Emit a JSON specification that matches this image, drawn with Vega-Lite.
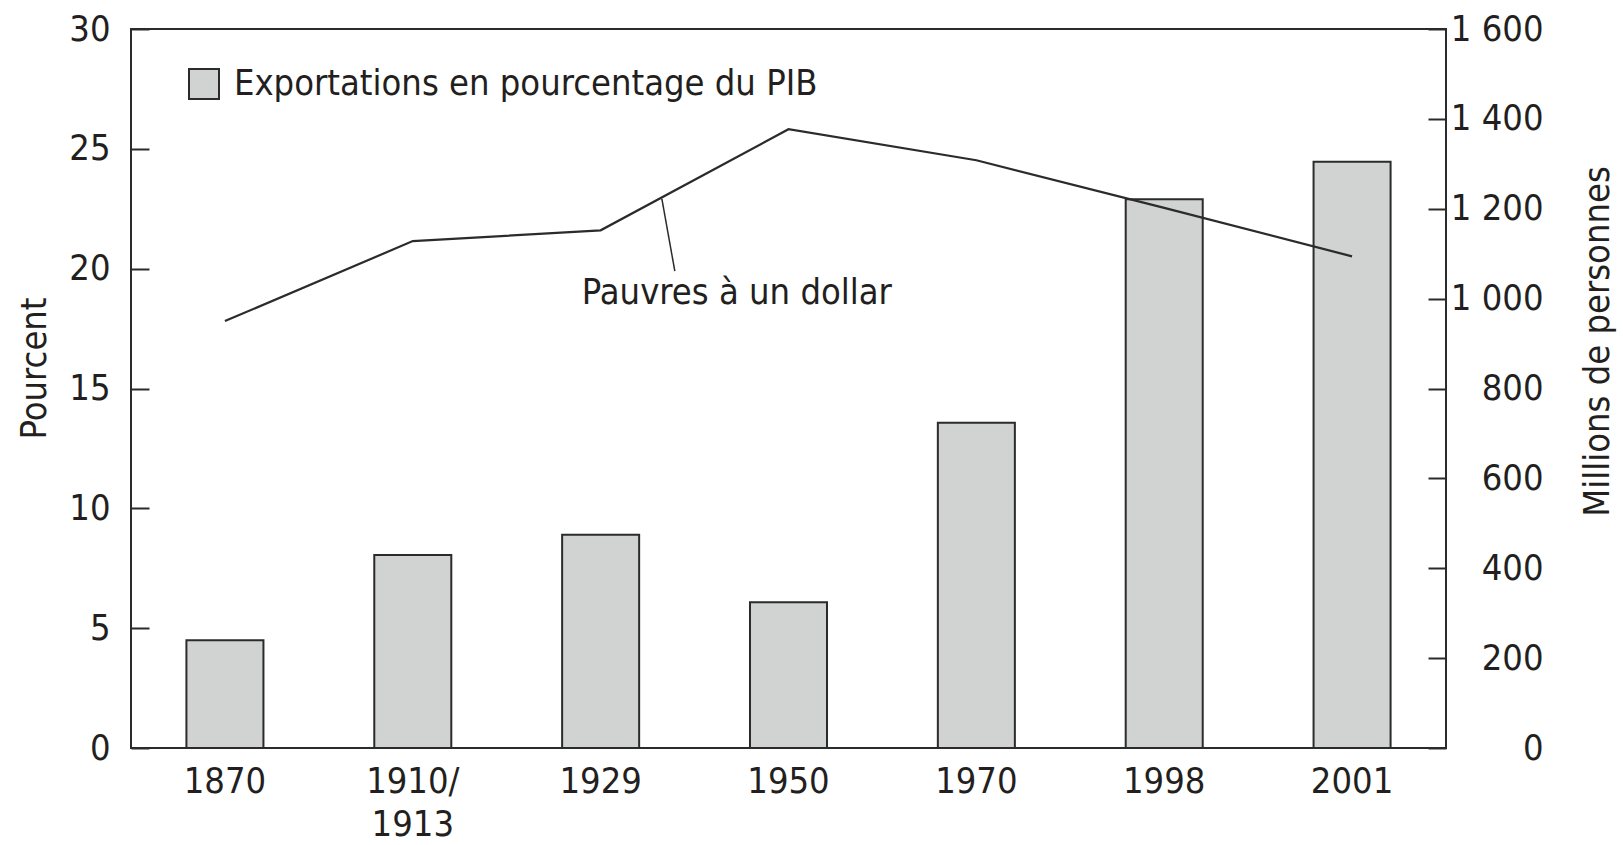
{
  "$schema": "https://vega.github.io/schema/vega-lite/v6.json",
  "autosize": {"type": "none"},
  "width": 1315,
  "height": 719,
  "padding": {"left": 131, "top": 29, "right": 177, "bottom": 97},
  "background": "white",
  "config": {
    "font": "DejaVu Sans Condensed, sans-serif",
    "view": {"stroke": "#2b2b2b", "strokeWidth": 2},
    "axis": {
      "labelFont": "DejaVu Sans Condensed, sans-serif",
      "titleFont": "DejaVu Sans Condensed, sans-serif",
      "labelFontSize": 36,
      "titleFontSize": 36,
      "labelColor": "#231f20",
      "titleColor": "#231f20",
      "titleFontWeight": "normal",
      "grid": false,
      "domain": false,
      "labelOverlap": false,
      "labelBound": false,
      "labelFlush": false
    }
  },
  "data": {
    "values": [
      {"period": "1870", "exports": 4.5, "poor": 950},
      {"period": "1910/1913", "exports": 8.05, "poor": 1128},
      {"period": "1929", "exports": 8.9, "poor": 1152},
      {"period": "1950", "exports": 6.08, "poor": 1377},
      {"period": "1970", "exports": 13.57, "poor": 1308},
      {"period": "1998", "exports": 22.9, "poor": 1202},
      {"period": "2001", "exports": 24.46, "poor": 1094}
    ]
  },
  "layer": [
    {
      "mark": {"type": "bar", "width": {"band": 0.41}, "stroke": "#2b2b2b", "strokeWidth": 2},
      "encoding": {
        "x": {
          "field": "period", "type": "nominal", "sort": null,
          "scale": {"paddingInner": 0, "paddingOuter": 0},
          "axis": {
            "title": null, "labelAngle": 0, "ticks": false, "labelPadding": 16,
            "labelLineHeight": 43,
            "labelExpr": "datum.value == '1910/1913' ? ['1910/', '1913'] : datum.label"
          }
        },
        "y": {
          "field": "exports", "type": "quantitative",
          "scale": {"domain": [0, 30], "nice": false},
          "axis": {
            "orient": "left", "title": "Pourcent",
            "values": [0, 5, 10, 15, 20, 25, 30],
            "tickSize": -18, "tickWidth": 2, "tickColor": "#2b2b2b",
            "labelPadding": 39,
            "titleX": -97, "titleY": 339, "titleBaseline": "middle", "titleAngle": -90
          }
        },
        "fill": {
          "datum": "Exportations en pourcentage du PIB",
          "type": "nominal",
          "scale": {"range": ["#d1d3d3"]},
          "legend": {
            "title": null, "orient": "none", "legendX": 55, "legendY": 37,
            "symbolType": "square", "symbolSize": 900,
            "symbolStrokeColor": "#2b2b2b", "symbolStrokeWidth": 2,
            "labelFontSize": 36, "labelColor": "#231f20",
            "labelFont": "DejaVu Sans Condensed, sans-serif",
            "labelOffset": 12, "labelLimit": 0, "padding": 0
          }
        }
      }
    },
    {
      "mark": {"type": "line", "color": "#2b2b2b", "strokeWidth": 2.2},
      "encoding": {
        "x": {
          "field": "period", "type": "nominal", "sort": null,
          "scale": {"type": "point", "padding": 0.5},
          "axis": null
        },
        "y": {
          "field": "poor", "type": "quantitative",
          "scale": {"domain": [0, 1600], "nice": false},
          "axis": {
            "orient": "right", "title": "Millions de personnes",
            "values": [0, 200, 400, 600, 800, 1000, 1200, 1400, 1600],
            "labelExpr": "replace(format(datum.value, ','), ',', ' ')",
            "tickSize": -18, "tickWidth": 2, "tickColor": "#2b2b2b",
            "labelAlign": "right", "labelPadding": 115,
            "titleAngle": -90, "titleBaseline": "middle", "titleX": 151, "titleY": 312
          }
        }
      }
    },
    {
      "data": {"values": [{"ax": 2.826, "ay": 1222, "ax2": 2.895, "ay2": 1061}]},
      "mark": {"type": "rule", "color": "#2b2b2b", "strokeWidth": 1.5},
      "encoding": {
        "x": {"field": "ax", "type": "quantitative", "scale": {"domain": [0, 7], "nice": false, "zero": false}, "axis": null},
        "x2": {"field": "ax2"},
        "y": {"field": "ay", "type": "quantitative", "scale": {"domain": [0, 1600], "nice": false}, "axis": null},
        "y2": {"field": "ay2"}
      }
    },
    {
      "data": {"values": [{"tx": 2.4, "ty": 987, "label": "Pauvres à un dollar"}]},
      "mark": {
        "type": "text", "align": "left", "baseline": "alphabetic",
        "fontSize": 36, "color": "#231f20",
        "font": "DejaVu Sans Condensed, sans-serif"
      },
      "encoding": {
        "x": {"field": "tx", "type": "quantitative", "scale": {"domain": [0, 7], "nice": false, "zero": false}, "axis": null},
        "y": {"field": "ty", "type": "quantitative", "scale": {"domain": [0, 1600], "nice": false}, "axis": null},
        "text": {"field": "label"}
      }
    }
  ],
  "resolve": {"scale": {"x": "independent", "y": "independent"}}
}
